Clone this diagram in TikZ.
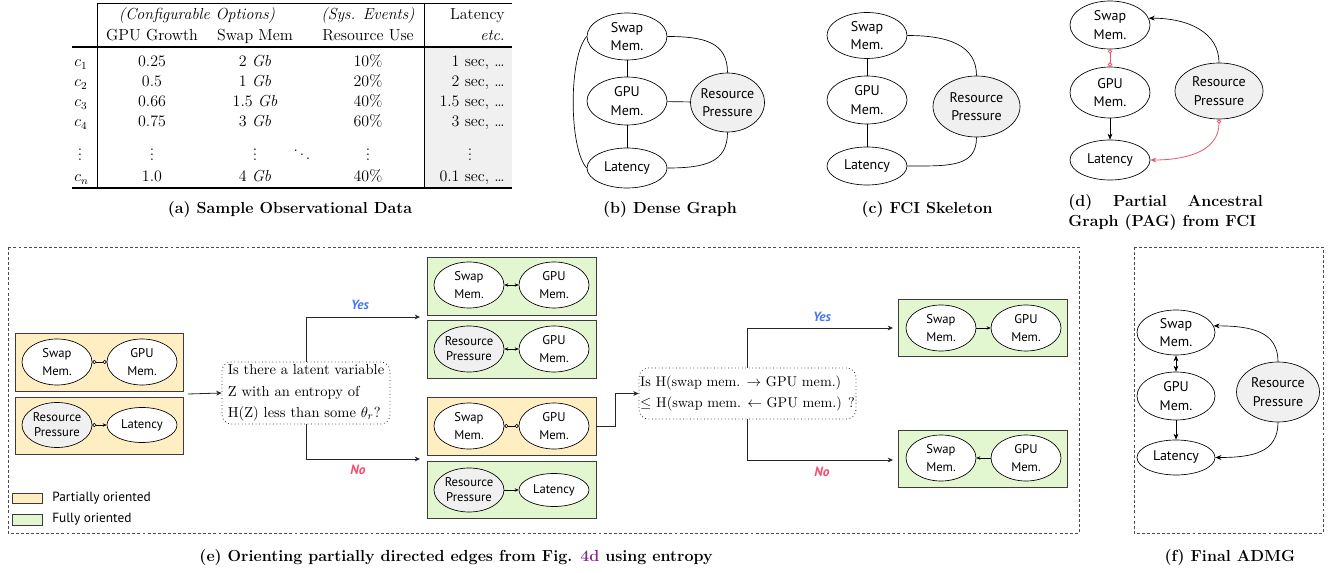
\documentclass[tikz,border=0pt]{standalone}
\usepackage{amsmath}
\usepackage{fontspec}
\newfontfamily\nodefont{PT Sans}
\usetikzlibrary{arrows.meta,shapes.geometric}
\definecolor{pagred}{RGB}{234,86,108}
\definecolor{yesblue}{RGB}{70,120,245}
\definecolor{nored}{RGB}{250,75,110}
\definecolor{partfill}{RGB}{255,238,194}
\definecolor{fullfill}{RGB}{226,247,207}
\definecolor{latfill}{RGB}{240,240,240}
\definecolor{boxline}{RGB}{60,60,60}
\definecolor{linkpurple}{RGB}{128,40,140}
\tikzset{
  sz/.style 2 args={minimum width={#1*0.75pt}, minimum height={#2*0.75pt}},
  var/.style={ellipse, draw=black, line width=0.5pt, fill=white, inner xsep=-10pt, inner ysep=-10pt, align=center, font=\nodefont\fontsize{10.5}{13.8}\selectfont},
  hid/.style={fill=latfill},
  sm/.style={var, font=\nodefont\fontsize{9.5}{13.5}\selectfont},
  smrp/.style={var, hid, font=\nodefont\fontsize{9.5}{11.3}\selectfont},
  plainedge/.style={draw=black, line width=0.5pt},
  arr/.style={plainedge, -{Stealth[length=4.5pt,width=3.6pt]}},
  biarr/.style={plainedge, {Stealth[length=4.5pt,width=3.6pt]}-{Stealth[length=4.5pt,width=3.6pt]}},
  pagedge/.style={draw=pagred, line width=0.6pt},
  sedge/.style={draw=black, line width=0.45pt},
  sarr/.style={sedge, -{Stealth[length=3pt,width=2.6pt]}},
  sbi/.style={sedge, {Stealth[length=3pt,width=2.6pt]}-{Stealth[length=3pt,width=2.6pt]}},
  soo/.style={sedge, {Circle[fill=white,length=3pt]}-{Circle[fill=white,length=3pt]}},
  soa/.style={sedge, {Circle[fill=white,length=3pt]}-{Stealth[length=3pt,width=2.6pt]}},
  obox/.style={rectangle, draw=boxline, line width=0.6pt, fill=partfill, inner sep=0pt},
  gbox/.style={obox, fill=fullfill},
  qbox/.style={rectangle, rounded corners=7pt, draw=black!85, dotted, line width=0.6pt, align=left, inner sep=0pt, font=\fontsize{10.9}{16}\selectfont},
  flow/.style={draw=black!85, line width=0.6pt, -{Stealth[length=4pt,width=3.6pt]}},
  yeslab/.style={font=\nodefont\bfseries\itshape\fontsize{10}{12}\selectfont, text=yesblue, inner sep=0pt},
  nolab/.style={font=\nodefont\bfseries\itshape\fontsize{10}{12}\selectfont, text=nored, inner sep=0pt},
  dashbox/.style={draw=black!70, line width=0.6pt, dash pattern=on 2.2pt off 1.6pt},
  capt/.style={font=\bfseries\fontsize{12}{15}\selectfont, inner sep=0pt},
  tcell/.style={inner sep=0pt, font=\fontsize{12}{13}\selectfont},
  legtext/.style={font=\nodefont\fontsize{10}{12}\selectfont, inner sep=0pt, anchor=west},
}
\begin{document}
\begin{tikzpicture}[x=0.75pt, y=-0.75pt]
\useasboundingbox (0,0) rectangle (1334,573);

% ---------------- (a) table ----------------
\fill[latfill] (424.5,47.5) rectangle (512,187.5);
\draw[line width=0.4pt] (97,3) -- (512,3);
\draw[line width=0.4pt] (97,3) -- (97,188);
\draw[line width=0.4pt] (424,3) -- (424,188);
\draw[line width=0.9pt] (72,47) -- (512,47);
\draw[line width=0.9pt] (72,188) -- (512,188);

\node[tcell, anchor=base] (h1) at (197,20) {\textit{(Configurable Options)}};
\node[tcell, anchor=base] (h2) at (368,20) {\textit{(Sys. Events)}};
\node[tcell, anchor=base east] (h3) at (505,20) {Latency};
\node[tcell, anchor=base] (h4) at (152,41) {GPU Growth};
\node[tcell, anchor=base] (h5) at (255,41) {Swap Mem};
\node[tcell, anchor=base] (h6) at (368,41) {Resource Use};
\node[tcell, anchor=base east] (h7) at (505,41) {\textit{etc.}};

\foreach \n/\yy/\lab/\g/\s/\r/\l in {1/67/c_1/0.25/2/10/1, 2/87/c_2/0.5/1/20/2, 3/107/c_3/0.66/1.5/40/1.5, 4/127/c_4/0.75/3/60/3, 5/182/c_n/1.0/4/40/0.1}{
  \node[tcell, anchor=base west] (rl\n) at (74,\yy) {$\lab$};
  \node[tcell, anchor=base] (rg\n) at (152,\yy) {\g};
  \node[tcell, anchor=base] (rs\n) at (255,\yy) {\s~\textit{Gb}};
  \node[tcell, anchor=base] (rr\n) at (368,\yy) {\r\%};
  \node[tcell, anchor=base east] (rt\n) at (505,\yy) {\l~sec, \ldots};
}
\foreach \n/\xx in {1/80, 2/152, 3/255, 4/368, 5/470}{
  \node[tcell, anchor=base] (vd\n) at (\xx,161) {$\vdots$};
}
\node[tcell, anchor=base] (dd) at (302,161) {$\ddots$};

\node[capt] (capa) at (290,210) {(a) Sample Observational Data};

% ---------------- (b) dense graph ----------------
\node[var, sz={80}{47}] (sb) at (627,36.5) {Swap\\Mem.};
\node[var, sz={80}{48}] (gb) at (627,101) {GPU\\Mem.};
\node[var, sz={80}{40}] (lb) at (627,168) {Latency};
\node[var, hid, sz={74}{59}] (rb) at (727.5,102.5) {Resource\\Pressure};
\draw[plainedge] (sb) -- (gb);
\draw[plainedge] (gb) -- (lb);
\draw[plainedge] (gb) -- (rb);
\draw[plainedge] (sb.east) .. controls +(38,0) and +(0,-30) .. (rb.north);
\draw[plainedge] (lb.east) .. controls +(38,0) and +(0,30) .. (rb.south);
\draw[plainedge] (sb.west) .. controls +(-18,20) and +(-18,-20) .. (lb.west);
\node[capt] (capb) at (670,210) {(b) Dense Graph};

% ---------------- (c) FCI skeleton ----------------
\node[var, sz={80}{46}] (sc) at (867,35.5) {Swap\\Mem.};
\node[var, sz={80}{48}] (gc) at (867,100) {GPU\\Mem.};
\node[var, sz={80}{38}] (lc) at (867,166) {Latency};
\node[var, hid, sz={87}{61}] (rc) at (976.5,106.5) {Resource\\Pressure};
\draw[plainedge] (sc) -- (gc);
\draw[plainedge] (gc) -- (lc);
\draw[plainedge] (sc.east) .. controls +(42,0) and +(0,-30) .. (rc.north);
\draw[plainedge] (lc.east) .. controls +(42,0) and +(0,30) .. (rc.south);
\node[capt] (capc) at (927,210) {(c) FCI Skeleton};

% ---------------- (d) PAG ----------------
\node[var, sz={80}{48}] (sd) at (1110,25) {Swap\\Mem.};
\node[var, sz={80}{51}] (gd) at (1110,92.5) {GPU\\Mem.};
\node[var, sz={80}{40}] (ld) at (1110,160) {Latency};
\node[var, hid, sz={88}{56}] (rd) at (1219,91) {Resource\\Pressure};
\draw[pagedge, {Circle[fill=white,length=3.2pt]}-{Circle[fill=white,length=3.2pt]}] (sd) -- (gd);
\draw[arr] (gd) -- (ld);
\draw[arr] (rd.north) .. controls +(0,-30) and +(40,0) .. (sd.10);
\draw[pagedge, {Circle[fill=white,length=3.2pt]}-{Stealth[length=4.5pt,width=3.6pt]}] (rd.south) .. controls +(0,30) and +(40,0) .. (ld.east);
\node[capt, anchor=north west, align=left] (capd) at (1068,194) {\makebox[146pt][s]{(d) Partial Ancestral}\\Graph (PAG) from FCI};

% ---------------- (e) orienting ----------------
\draw[dashbox] (8,247) rectangle (1079,533);

\node[obox, sz={168}{58}] (b1) at (99,362) {};
\node[sm, sz={70}{46}] (b1s) at (57,362) {Swap\\Mem.};
\node[sm, sz={70}{46}] (b1g) at (142,362) {GPU\\Mem.};
\draw[soo] (b1s) -- (b1g);
\node[obox, sz={168}{57}] (b2) at (99,425.5) {};
\node[smrp, sz={70}{45}] (b2r) at (57,425) {Resource\\Pressure};
\node[sm, sz={70}{35}] (b2l) at (142,425) {Latency};
\draw[soa] (b2r) -- (b2l);

\node[qbox, sz={168}{62}] (q1) at (306,393) {Is there a latent variable\\Z with an entropy of\\H(Z) less than some $\theta_r$?};
\coordinate (lin) at (188,394);
\draw[flow] (lin) -- (q1.west);
\coordinate (y1) at (420,317);
\coordinate (n1) at (420,459);
\draw[flow] (q1.north) |- (y1);
\draw[flow] (q1.south) |- (n1);
\node[yeslab] (yes1) at (360,305) {Yes};
\node[nolab] (no1) at (358,470) {No};

\node[gbox, sz={169}{58}] (ba) at (511.5,286) {};
\node[sm, sz={70}{46}] (bas) at (469,285) {Swap\\Mem.};
\node[sm, sz={70}{46}] (bag) at (554,285) {GPU\\Mem.};
\draw[sbi] (bas) -- (bag);
\node[gbox, sz={169}{58}] (bb) at (511.5,349) {};
\node[smrp, sz={70}{46}] (bbr) at (469,349) {Resource\\Pressure};
\node[sm, sz={70}{46}] (bbg) at (554,349) {GPU\\Mem.};
\draw[sbi] (bbr) -- (bbg);
\node[obox, sz={169}{58}] (bc) at (511.5,426) {};
\node[sm, sz={70}{46}] (bcs) at (469,426) {Swap\\Mem.};
\node[sm, sz={70}{46}] (bcg) at (554,426) {GPU\\Mem.};
\draw[soo] (bcs) -- (bcg);
\node[gbox, sz={169}{57}] (bd) at (511.5,489.5) {};
\node[smrp, sz={70}{44}] (bdr) at (469,490) {Resource\\Pressure};
\node[sm, sz={70}{33}] (bdl) at (554,490) {Latency};
\draw[sarr] (bdr) -- (bdl);

\node[qbox, sz={217}{51}, font=\fontsize{10.6}{16}\selectfont] (q2) at (747.5,393.5) {Is H(swap mem. $\rightarrow$ GPU mem.)\\$\leq$ H(swap mem. $\leftarrow$ GPU mem.) ?};
\draw[flow] (bc.east) -- ++(19,0) |- (q2.west);
\coordinate (y2) at (893,328);
\coordinate (n2) at (893,460);
\draw[flow] (q2.north) |- (y2);
\draw[flow] (q2.south) |- (n2);
\node[yeslab] (yes2) at (822,317) {Yes};
\node[nolab] (no2) at (822,472) {No};

\node[gbox, sz={169}{57}] (be) at (982.5,327.5) {};
\node[sm, sz={70}{46}] (bes) at (941,328) {Swap\\Mem.};
\node[sm, sz={70}{46}] (beg) at (1026,328) {GPU\\Mem.};
\draw[sarr] (bes) -- (beg);
\node[gbox, sz={169}{57}] (bf) at (982.5,458.5) {};
\node[sm, sz={70}{46}] (bfs) at (941,458) {Swap\\Mem.};
\node[sm, sz={70}{46}] (bfg) at (1026,458) {GPU\\Mem.};
\draw[sarr] (bfg) -- (bfs);

\node[obox, sz={30}{10}] (lg1) at (27,498) {};
\node[legtext] (lt1) at (52,498) {Partially oriented};
\node[gbox, sz={30}{11}] (lg2) at (27,519.5) {};
\node[legtext] (lt2) at (52,519.5) {Fully oriented};

\node[capt] (cape) at (456,558) {(e) Orienting partially directed edges from Fig. \textcolor{linkpurple}{4d} using entropy};

% ---------------- (f) final ADMG ----------------
\draw[dashbox] (1134,247) rectangle (1323,533);
\node[var, sz={78}{45}] (sf) at (1176,332.5) {Swap\\Mem.};
\node[var, sz={78}{48}] (gf) at (1176,396) {GPU\\Mem.};
\node[var, sz={78}{35}] (lf) at (1176,457.5) {Latency};
\node[var, hid, sz={83}{60}] (rf) at (1278,392) {Resource\\Pressure};
\draw[biarr] (sf) -- (gf);
\draw[arr] (gf) -- (lf);
\draw[arr] (rf.north) .. controls +(0,-30) and +(38,0) .. (sf.10);
\draw[arr] (rf.south) .. controls +(0,30) and +(38,0) .. (lf.east);
\node[capt] (capf) at (1230,558) {(f) Final ADMG};
\end{tikzpicture}
\end{document}
